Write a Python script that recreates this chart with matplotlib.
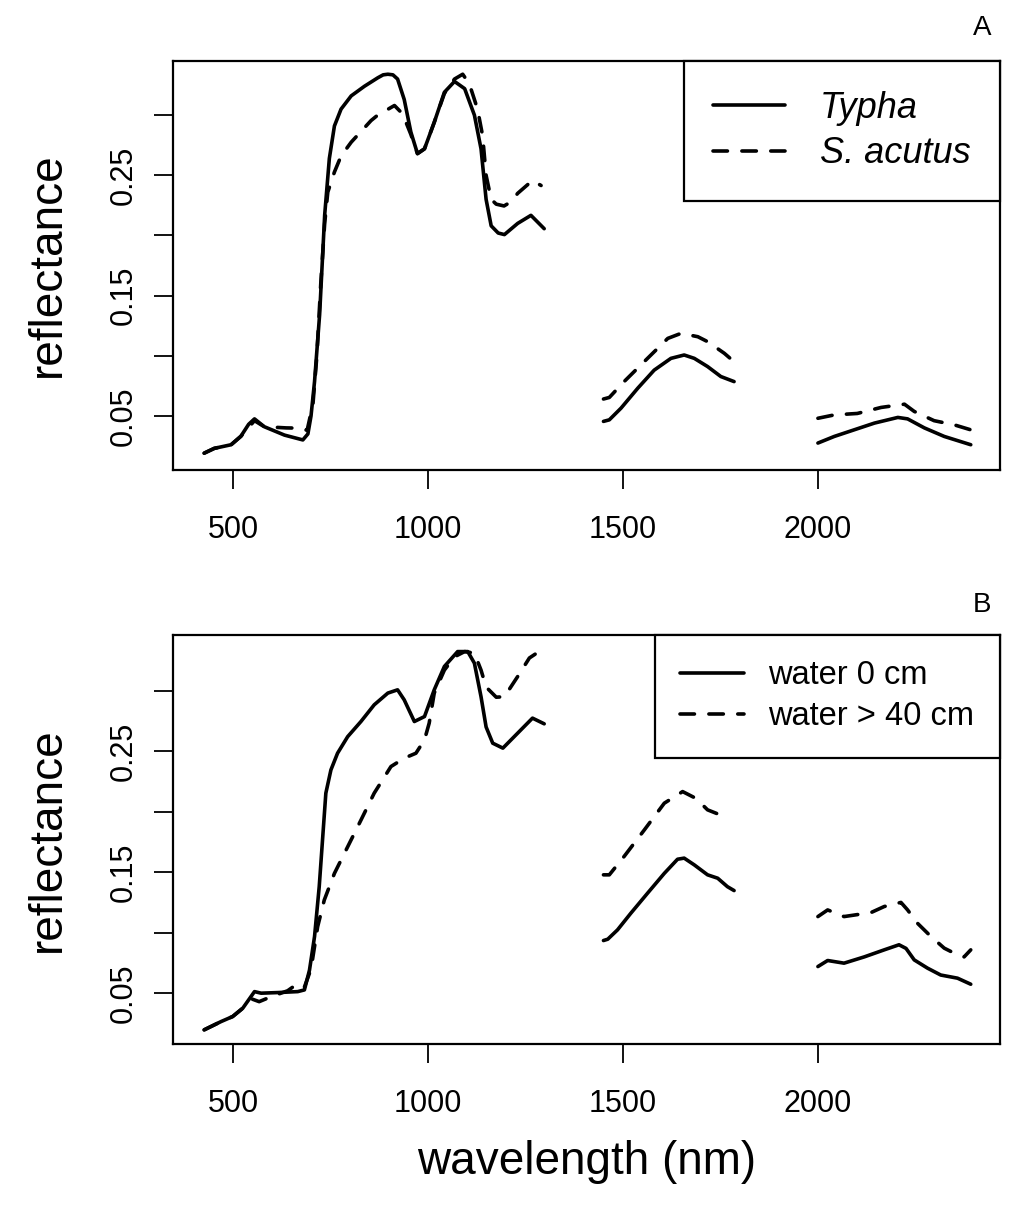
import numpy as np
import matplotlib.pyplot as plt
from matplotlib.lines import Line2D

plt.rcParams['font.family'] = ['Liberation Sans', 'DejaVu Sans']

nan = np.nan

# ─── Panel A: Typha vs S. acutus ─────────────────────────────────────────────
typha_wl = [426, 452, 495, 520, 540, 555, 580, 632, 679, 692, 700, 709, 722, 735, 747,
            760, 777, 803, 837, 871, 885, 897, 910, 922, 939, 956, 973, 991, 1016, 1042,
            1068, 1094, 1119, 1136, 1149, 1162, 1180, 1196, 1230, 1264, 1298, nan,
            1450, 1465, 1495, 1538, 1580, 1623, 1657, 1683, 1717, 1751, 1785, nan,
            2000, 2042, 2093, 2145, 2205, 2230, 2273, 2324, 2392]
typha_refl = [0.019, 0.023, 0.026, 0.033, 0.043, 0.0475, 0.041, 0.034, 0.030, 0.035, 0.050,
              0.0785, 0.134, 0.217, 0.264, 0.291, 0.305, 0.316, 0.324, 0.331, 0.3335, 0.334,
              0.3335, 0.330, 0.313, 0.286, 0.268, 0.272, 0.294, 0.319, 0.328, 0.322, 0.300,
              0.272, 0.230, 0.208, 0.202, 0.2007, 0.210, 0.2167, 0.2056, nan,
              0.0454, 0.0467, 0.0564, 0.073, 0.088, 0.0978, 0.1006, 0.0978, 0.091, 0.0827,
              0.0785, nan,
              0.0274, 0.0329, 0.0384, 0.044, 0.0487, 0.0475, 0.040, 0.0329, 0.026]

acutus_wl = [426, 452, 495, 520, 555, 580, 636, 669, 690, 705, 715, 725, 735, 743, 760,
             777, 803, 854, 871, 914, 935, 956, 973, 991, 1016, 1042, 1068, 1089, 1106,
             1127, 1140, 1149, 1162, 1175, 1195, 1213, 1230, 1268, 1290, nan,
             1450, 1465, 1503, 1563, 1615, 1649, 1692, 1717, 1760, 1785, nan,
             2000, 2042, 2101, 2162, 2222, 2247, 2298, 2350, 2392]
acutus_refl = [0.019, 0.023, 0.026, 0.033, 0.046, 0.041, 0.040, 0.0398, 0.038, 0.060, 0.100,
               0.160, 0.210, 0.236, 0.2527, 0.266, 0.2775, 0.2955, 0.300, 0.308, 0.301,
               0.284, 0.268, 0.272, 0.294, 0.318, 0.330, 0.334, 0.326, 0.305, 0.283, 0.250,
               0.230, 0.226, 0.2245, 0.228, 0.235, 0.2457, 0.2415, nan,
               0.064, 0.0653, 0.0785, 0.0978, 0.1144, 0.1186, 0.1158, 0.1117, 0.102, 0.095, nan,
               0.048, 0.0508, 0.052, 0.057, 0.0597, 0.0537, 0.046, 0.0425, 0.0384]

# ─── Panel B: water 0 cm vs water > 40 cm ────────────────────────────────────
w0_wl = [426, 469, 499, 525, 555, 572, 615, 666, 683, 696, 709, 721, 730, 738, 751, 768,
         794, 828, 862, 897, 922, 939, 965, 991, 1016, 1042, 1076, 1102, 1119, 1136, 1149,
         1166, 1192, 1230, 1268, 1298, nan,
         1450, 1461, 1486, 1520, 1563, 1606, 1640, 1657, 1683, 1717, 1743, 1768, 1785, nan,
         2000, 2025, 2067, 2119, 2170, 2208, 2226, 2247, 2281, 2315, 2358, 2392]
w0_refl = [0.0197, 0.0265, 0.0307, 0.0376, 0.0513, 0.050, 0.0505, 0.0513, 0.0527, 0.069,
           0.0968, 0.138, 0.179, 0.2153, 0.2345, 0.2483, 0.262, 0.2745, 0.2883, 0.298,
           0.3007, 0.2924, 0.2745, 0.2786, 0.3007, 0.320, 0.3323, 0.3323, 0.3227, 0.295,
           0.270, 0.2566, 0.2525, 0.2649, 0.2773, 0.2726, nan,
           0.0935, 0.0946, 0.1023, 0.116, 0.1326, 0.149, 0.1607, 0.1616, 0.156, 0.1478,
           0.145, 0.138, 0.1348, nan,
           0.072, 0.077, 0.0748, 0.080, 0.0858, 0.090, 0.087, 0.0775, 0.0707, 0.065,
           0.0624, 0.0574]

w40_wl = [426, 469, 499, 525, 550, 567, 597, 640, 666, 683, 700, 717, 734, 760, 794, 828,
          862, 905, 939, 969, 991, 1003, 1016, 1042, 1068, 1094, 1119, 1136, 1149, 1175,
          1196, 1230, 1260, 1281, 1298, nan,
          1450, 1465, 1503, 1555, 1606, 1653, 1687, 1717, 1760, nan,
          2000, 2025, 2067, 2136, 2170, 2213, 2230, 2255, 2290, 2324, 2358, 2375, 2392]
w40_refl = [0.0197, 0.0265, 0.0307, 0.0376, 0.045, 0.043, 0.047, 0.052, 0.058, 0.055, 0.070,
            0.105, 0.127, 0.149, 0.171, 0.193, 0.2153, 0.2373, 0.2442, 0.2483, 0.2593,
            0.2731, 0.298, 0.317, 0.328, 0.3323, 0.331, 0.317, 0.303, 0.2946, 0.295,
            0.3117, 0.327, 0.3315, 0.3315, nan,
            0.1478, 0.1478, 0.163, 0.185, 0.207, 0.2166, 0.211, 0.2015, 0.196, nan,
            0.1133, 0.1188, 0.1133, 0.1166, 0.1216, 0.125, 0.1188, 0.1079, 0.0968,
            0.0872, 0.0817, 0.080, 0.0858]

y_ticks = [0.05, 0.10, 0.15, 0.20, 0.25, 0.30]
y_labels = ['0.05', '', '0.15', '', '0.25', '']
x_ticks = [500, 1000, 1500, 2000]

LW = 2.6
DASH = (0, (4, 4))

fig = plt.figure(figsize=(10.24, 12.15), dpi=100)
W, H = 1024, 1215
axA = fig.add_axes([173 / W, 1 - 470 / H, 827 / W, 409 / H])
axB = fig.add_axes([173 / W, 1 - 1044 / H, 827 / W, 409 / H])


def estilo(ax, ylim):
    ax.set_xlim(346, 2467)
    ax.set_ylim(*ylim)
    ax.set_xticks(x_ticks)
    ax.set_yticks(y_ticks)
    ax.set_yticklabels(y_labels)
    ax.tick_params(axis='both', direction='out', length=13.5, width=1.3, labelsize=22)
    ax.tick_params(axis='x', pad=19)
    ax.tick_params(axis='y', pad=11)
    plt.setp(ax.get_yticklabels(), rotation=90, va='center')
    for s in ax.spines.values():
        s.set_linewidth(1.6)


axA.plot(typha_wl, typha_refl, color='black', lw=LW, solid_capstyle='round',
         solid_joinstyle='round')
axA.plot(acutus_wl, acutus_refl, color='black', lw=LW, linestyle=DASH,
         dash_capstyle='round', dash_joinstyle='round')
estilo(axA, (0.005, 0.345))

axB.plot(w0_wl, w0_refl, color='black', lw=LW, solid_capstyle='round',
         solid_joinstyle='round')
axB.plot(w40_wl, w40_refl, color='black', lw=LW, linestyle=DASH,
         dash_capstyle='round', dash_joinstyle='round')
estilo(axB, (0.008, 0.346))

h_sol = Line2D([], [], color='black', lw=LW, solid_capstyle='round')
h_das = Line2D([], [], color='black', lw=LW, linestyle=DASH, dash_capstyle='round')

legA = axA.legend([h_sol, h_das], ['Typha', 'S. acutus'], loc='upper right',
                  borderaxespad=0, fancybox=False, edgecolor='black', framealpha=1,
                  prop={'style': 'italic', 'size': 26}, handlelength=2.0,
                  handletextpad=0.95, borderpad=0.82, labelspacing=0.3)
legA.get_frame().set_linewidth(1.6)

legB = axB.legend([h_sol, h_das], ['water 0 cm', 'water > 40 cm'], loc='upper right',
                  borderaxespad=0, fancybox=False, edgecolor='black', framealpha=1,
                  fontsize=23.5, handlelength=1.96, handletextpad=0.75, borderpad=0.78,
                  labelspacing=0.3)
legB.get_frame().set_linewidth(1.6)

fig.text(982 / W, 1 - 28 / H, 'A', ha='center', va='center', fontsize=20)
fig.text(982 / W, 1 - 605 / H, 'B', ha='center', va='center', fontsize=20)
fig.text(48 / W, 1 - 265 / H, 'reflectance', rotation=90, ha='center', va='center', fontsize=33)
fig.text(48 / W, 1 - 840 / H, 'reflectance', rotation=90, ha='center', va='center', fontsize=33)
fig.text(587 / W, 1 - 1162 / H, 'wavelength (nm)', ha='center', va='center', fontsize=33)

plt.savefig('out.png', dpi=100)
